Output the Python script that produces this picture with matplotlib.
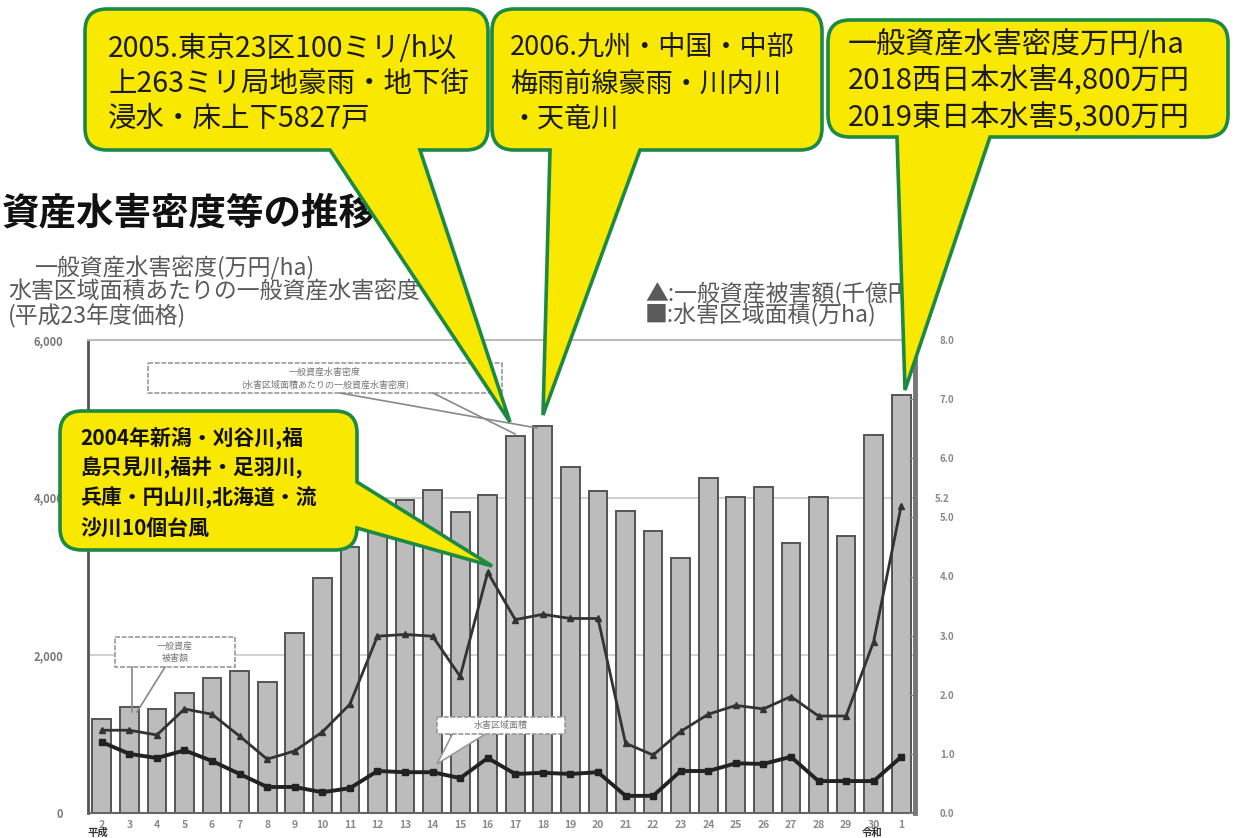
import matplotlib.pyplot as plt
from matplotlib.path import Path
from matplotlib.patches import PathPatch, Rectangle, Polygon

plt.rcParams['font.family'] = ['Noto Sans CJK JP', 'DejaVu Sans']

# 平成2年 ～ 令和元年
years = ['2', '3', '4', '5', '6', '7', '8', '9', '10', '11', '12', '13', '14', '15', '16',
         '17', '18', '19', '20', '21', '22', '23', '24', '25', '26', '27', '28', '29', '30', '1']
# 一般資産水害密度 (万円/ha)
density = [1190, 1340, 1320, 1520, 1710, 1800, 1660, 2280, 2980, 3370, 3730, 3970, 4100, 3820, 4030,
           4780, 4910, 4390, 4080, 3830, 3580, 3230, 4250, 4010, 4130, 3420, 4010, 3510, 4800, 5300]
# 一般資産被害額 (千億円)
damage = [1.40, 1.40, 1.32, 1.76, 1.67, 1.30, 0.91, 1.05, 1.37, 1.84, 2.99, 3.02, 2.99, 2.31, 4.07,
          3.27, 3.36, 3.29, 3.29, 1.18, 0.98, 1.38, 1.67, 1.82, 1.76, 1.97, 1.64, 1.64, 2.90, 5.2]
# 水害区域面積 (万ha)
area = [1.20, 1.00, 0.93, 1.06, 0.88, 0.66, 0.44, 0.44, 0.35, 0.42, 0.71, 0.69, 0.69, 0.59, 0.93,
        0.66, 0.68, 0.66, 0.69, 0.29, 0.29, 0.71, 0.71, 0.84, 0.83, 0.95, 0.54, 0.54, 0.54, 0.95]

left_ticks = [0, 2000, 4000, 6000]
left_labels = ['0', '2,000', '4,000', '6,000']
right_ticks = [0, 1, 2, 3, 4, 5, 6, 7, 8]
right_labels = ['0.0', '1.0', '2.0', '3.0', '4.0', '5.0', '6.0', '7.0', '8.0']

W, H = 1235, 838
fig = plt.figure(figsize=(W / 100, H / 100), dpi=100)

# main chart
ax = fig.add_axes([88 / W, 1 - 813 / H, 827 / W, 473 / H])
x = list(range(len(years)))
ax.bar(x, density, width=0.68, color='#bcbcbc', edgecolor='#555555', linewidth=1.4, zorder=2)
ax.set_xlim(-0.5, len(years) - 0.5)
ax.set_ylim(0, 6000)
for g in [2000, 4000]:
    ax.axhline(g, color='#c8c8c8', lw=1.2, zorder=1)
ax.set_yticks(left_ticks)
ax.set_yticklabels(left_labels, fontsize=8, color='#777777', fontweight='bold')
ax.set_xticks(x)
ax.set_xticklabels(years, fontsize=7.5, color='#8a8a8a', fontweight='bold')
ax.tick_params(axis='y', length=0, pad=18)
ax.tick_params(axis='x', length=0, pad=5)
ax.spines['left'].set_color('#555555')
ax.spines['left'].set_linewidth(2)
ax.spines['bottom'].set_color('#666666')
ax.spines['bottom'].set_linewidth(1.5)
ax.spines['top'].set_color('#bbbbbb')
ax.spines['top'].set_linewidth(1.5)
ax.spines['right'].set_visible(False)

ax2 = ax.twinx()
ax2.plot(x, damage, color='#333333', lw=2.0, marker='^', ms=4, zorder=3)
ax2.plot(x, area, color='#222222', lw=2.8, marker='s', ms=4.5, zorder=3)
ax2.set_ylim(0, 8)
ax2.set_yticks(right_ticks)
ax2.set_yticklabels(right_labels, fontsize=7, color='#888888', fontweight='bold')
ax2.tick_params(axis='y', length=4, direction='in', color='#888888', pad=18)
for s in ['left', 'top', 'bottom']:
    ax2.spines[s].set_visible(False)
ax2.spines['right'].set_color('#777777')
ax2.spines['right'].set_linewidth(3.5)
ax2.text(1 + 20 / 827, 5.22, '5.2', transform=ax2.get_yaxis_transform(), fontsize=7,
         color='#888888', fontweight='bold', va='bottom')

# overlay in pixel coordinates for titles and balloons
ov = fig.add_axes([0, 0, 1, 1], zorder=10)
ov.set_xlim(0, W)
ov.set_ylim(H, 0)
ov.axis('off')
ov.patch.set_alpha(0)

ov.text(2, 213, '資産水害密度等の推移', fontsize=27, fontweight='bold', va='center', color='#111111')

grey = '#5a5a5a'
ov.text(35, 268, '一般資産水害密度(万円/ha)', fontsize=16.5, color=grey, va='center')
ov.text(8, 292, '水害区域面積あたりの一般資産水害密度', fontsize=16.5, color=grey, va='center')
ov.text(8, 316, '(平成23年度価格)', fontsize=16.5, color=grey, va='center')
ov.text(645, 293, '▲:一般資産被害額(千億円)', fontsize=16.5, color=grey, va='center')
ov.text(645, 315, '■:水害区域面積(万ha)', fontsize=16.5, color=grey, va='center')

ov.text(98, 833, '平成', fontsize=7.5, color='#333333', fontweight='bold', ha='center', va='center')
ov.text(872, 833, '令和', fontsize=7.5, color='#333333', fontweight='bold', ha='center', va='center')

# small label boxes inside the chart
box_kw = dict(facecolor='white', edgecolor='#999999', lw=1.2, linestyle=(0, (3, 1)))
ov.add_patch(Rectangle((148, 363), 354, 30, **box_kw))
ov.text(325, 372, '一般資産水害密度', fontsize=6.5, color='#777777', ha='center', va='center')
ov.text(325, 384, '(水害区域面積あたりの一般資産水害密度)', fontsize=6.5, color='#777777',
        ha='center', va='center')
ov.plot([340, 537], [393, 428], color='#888888', lw=1.2)
ov.plot([433, 515], [393, 434], color='#888888', lw=1.2)

ov.add_patch(Rectangle((115, 637), 120, 30, **box_kw))
ov.text(175, 646, '一般資産', fontsize=6.5, color='#777777', ha='center', va='center')
ov.text(175, 658, '被害額', fontsize=6.5, color='#777777', ha='center', va='center')
ov.plot([132, 132], [667, 712], color='#888888', lw=1.2)
ov.plot([165, 137], [667, 712], color='#888888', lw=1.2)

ov.add_patch(Polygon([(453, 733), (487, 733), (437, 764)], closed=True,
                     facecolor='white', edgecolor='#999999', lw=1.2))
ov.add_patch(Rectangle((437, 717), 128, 17, **box_kw))
ov.text(501, 725, '水害区域面積', fontsize=6.5, color='#777777', ha='center', va='center')


def bubble(x0, y0, x1, y1, base, tip, side='bottom', r=20):
    a, b = base
    v = [(x0 + r, y0), (x1 - r, y0), (x1, y0), (x1, y0 + r)]
    c = [Path.MOVETO, Path.LINETO, Path.CURVE3, Path.CURVE3]
    if side == 'right':
        v += [(x1, a), tip, (x1, b)]
        c += [Path.LINETO] * 3
    v += [(x1, y1 - r), (x1, y1), (x1 - r, y1)]
    c += [Path.LINETO, Path.CURVE3, Path.CURVE3]
    if side == 'bottom':
        v += [(b, y1), tip, (a, y1)]
        c += [Path.LINETO] * 3
    v += [(x0 + r, y1), (x0, y1), (x0, y1 - r), (x0, y0 + r), (x0, y0), (x0 + r, y0), (x0 + r, y0)]
    c += [Path.LINETO, Path.CURVE3, Path.CURVE3, Path.LINETO, Path.CURVE3, Path.CURVE3, Path.CLOSEPOLY]
    return Path(v, c)


yellow = '#f9e800'
green = '#1c8a45'
balloons = [
    ((85, 9, 488, 150), (330, 420), (510, 422), 'bottom'),
    ((492, 9, 822, 150), (550, 640), (543, 415), 'bottom'),
    ((828, 20, 1228, 137), (897, 990), (905, 390), 'bottom'),
    ((60, 411, 357, 550), (482, 528), (492, 566), 'right'),
]
for (x0, y0, x1, y1), base, tip, side in balloons:
    ov.add_patch(PathPatch(bubble(x0, y0, x1, y1, base, tip, side, r=22),
                           facecolor=yellow, edgecolor=green, lw=2.6, zorder=5))

big = dict(color='#1a1a1a', va='center', zorder=6)
for i, s in enumerate(['2005.東京23区100ミリ/h以', '上263ミリ局地豪雨・地下街', '浸水・床上下5827戸']):
    ov.text(108, 49 + 35 * i, s, fontsize=20.5, **big)
for i, s in enumerate(['2006.九州・中国・中部', '梅雨前線豪雨・川内川', '・天竜川']):
    ov.text(510, 48 + 36 * i, s, fontsize=19.5, **big)
for i, s in enumerate(['一般資産水害密度万円/ha', '2018西日本水害4,800万円', '2019東日本水害5,300万円']):
    ov.text(848, 45 + 36.5 * i, s, fontsize=21, **big)
for i, s in enumerate(['2004年新潟・刈谷川,福', '島只見川,福井・足羽川,', '兵庫・円山川,北海道・流',
                       '沙川10個台風']):
    ov.text(80, 438 + 30 * i, s, fontsize=15, fontweight='bold', color='#111111',
            va='center', zorder=6)

fig.savefig('out.png', dpi=100)
